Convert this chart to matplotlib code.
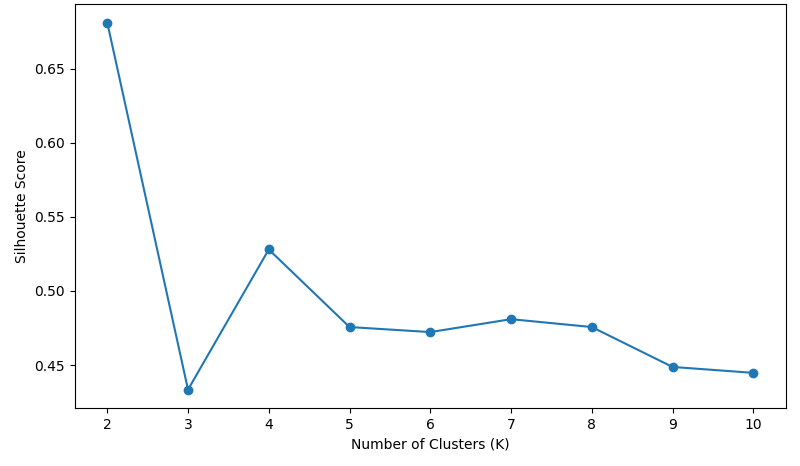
import matplotlib
matplotlib.use("Agg")
import matplotlib.pyplot as plt

k_values = [2, 3, 4, 5, 6, 7, 8, 9, 10]
silhouette_scores = [0.681, 0.4335, 0.528, 0.4757, 0.4723, 0.481, 0.4757, 0.4488, 0.4448]

fig, ax = plt.subplots(figsize=(8, 4.66), dpi=100)
ax.plot(k_values, silhouette_scores, marker='o', color='#1f77b4')
ax.set_xlabel('Number of Clusters (K)')
ax.set_ylabel('Silhouette Score')
ax.set_xticks(k_values)
fig.subplots_adjust(left=0.0937, right=0.982, top=0.991, bottom=0.1245)
fig.savefig('out.png', dpi=100)
